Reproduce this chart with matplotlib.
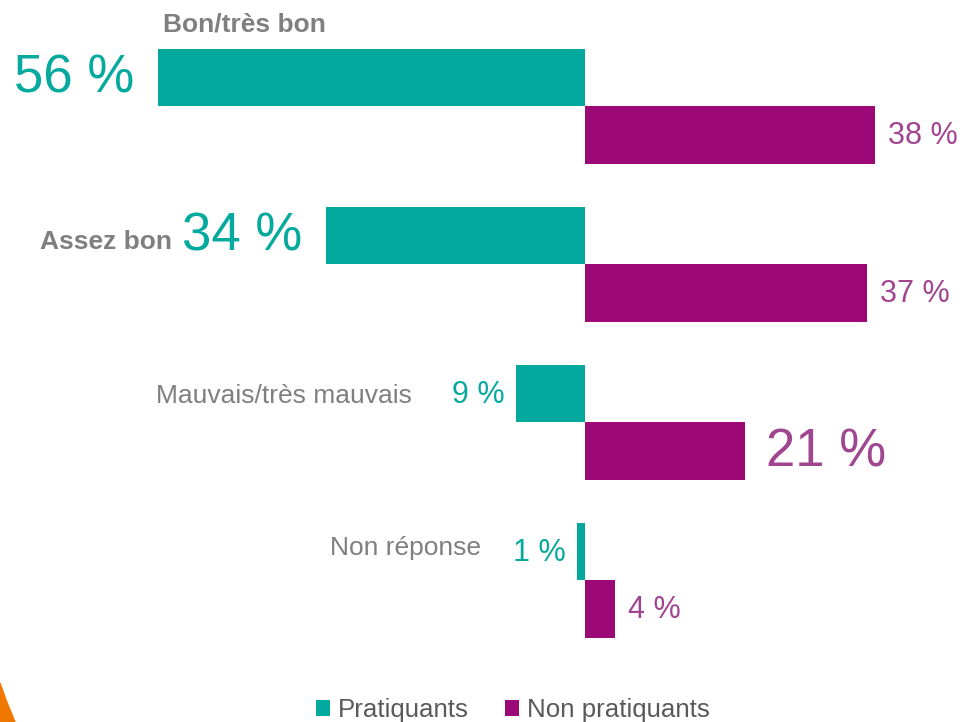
import matplotlib.pyplot as plt
from matplotlib.patches import Polygon

plt.rcParams["font.family"] = ["Liberation Sans", "DejaVu Sans"]

categories = ["Bon/très bon", "Assez bon", "Mauvais/très mauvais", "Non réponse"]
pratiquants = [56, 34, 9, 1]
non_pratiquants = [38, 37, 21, 4]
series_names = ["Pratiquants", "Non pratiquants"]

teal = "#04A99E"
magenta = "#9C0977"
teal_text = "#05A99E"
magenta_text = "#A0458F"
grey = "#7F7F7F"

# highlighted values get the big font
big_left = [True, True, False, False]
big_right = [False, False, True, False]

W, H = 969, 722
fig = plt.figure(figsize=(W / 100, H / 100), dpi=100)
ax = fig.add_axes([0, 0, 1, 1])
px = 7.62  # pixels per percent
x0 = 585   # zero line
ax.set_xlim(-x0 / px, (W - x0) / px)
ax.set_ylim((H - 106) / 158, -106 / 158)
ax.axis("off")

h = 57.5 / 158
rows = range(len(categories))
ax.barh([i - h / 2 for i in rows], [-v for v in pratiquants], height=h,
        color=teal, label=series_names[0])
ax.barh([i + h / 2 for i in rows], non_pratiquants, height=h,
        color=magenta, label=series_names[1])

for i in rows:
    v = pratiquants[i]
    big = big_left[i]
    ax.text(-v - (24 if big else 12) / px, i - h / 2 + 0.01, f"{v} %",
            ha="right", va="center", color=teal_text, fontsize=38 if big else 22)
    v = non_pratiquants[i]
    big = big_right[i]
    ax.text(v + (21 if big else 13) / px, i + h / 2 + 0.01, f"{v} %",
            ha="left", va="center", color=magenta_text, fontsize=38 if big else 22)

# category labels
def at(xp, yp):
    return (xp - x0) / px, (yp - 106) / 158

ax.text(*at(244, 24), categories[0], ha="center", va="center",
        color=grey, fontsize=19, fontweight="bold")
ax.text(*at(172, 242), categories[1], ha="right", va="center",
        color=grey, fontsize=19, fontweight="bold")
ax.text(*at(412, 396), categories[2], ha="right", va="center",
        color=grey, fontsize=19)
ax.text(*at(481, 548), categories[3], ha="right", va="center",
        color=grey, fontsize=19)

fig.legend(loc="center", bbox_to_anchor=(513 / W, 1 - 710 / H), ncol=2,
           frameon=False, fontsize=18.6, handlelength=0.55, handleheight=0.55,
           handletextpad=0.3, columnspacing=1.4, labelcolor="#595959")

# orange corner decoration
fig.patches.append(Polygon([(0, 1 - 683 / H), (6 / W, 1 - 700 / H),
                            (15 / W, 0), (0, 0)], closed=True,
                           transform=fig.transFigure, color="#F07800"))

fig.savefig("out.png", dpi=100)
